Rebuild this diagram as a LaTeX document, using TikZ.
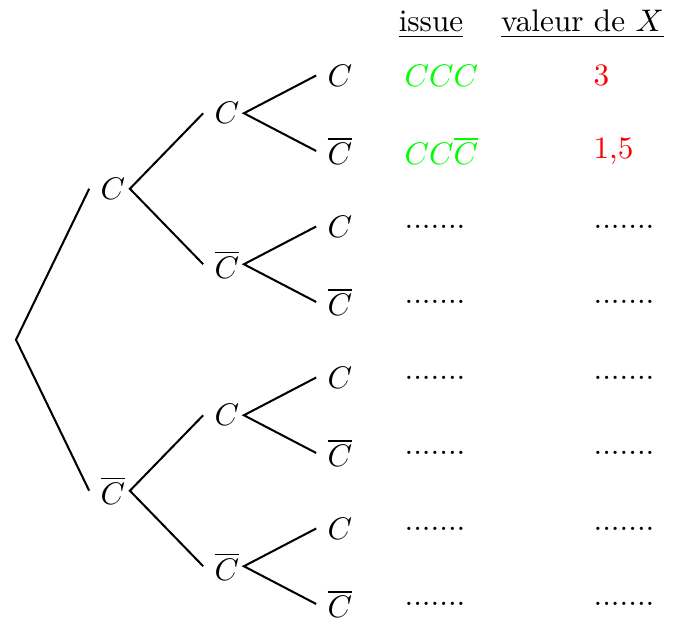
\documentclass[tikz,border=0pt]{standalone}
\usepackage{tikz}
\begin{document}
\begin{tikzpicture}[x=0.3205pt,y=-0.3205pt,
  tn/.style={inner sep=0pt},
  col/.style={inner sep=0pt,anchor=west},
  head/.style={inner sep=0pt,anchor=base},
  edge/.style={line width=0.65pt},
  iss/.style={text=green},
  val/.style={text=red}]
\useasboundingbox (0,0) rectangle (679,621);
% root
\coordinate (r) at (16,339.75);
% level 1
\node[tn] (a) at (113,188.75) {$C$};
\node[tn] (b) at (113,490.75) {$\overline{C}$};
% level 2
\node[tn] (aa) at (227,113.25) {$C$};
\node[tn] (ab) at (227,264.25) {$\overline{C}$};
\node[tn] (ba) at (227,415.25) {$C$};
\node[tn] (bb) at (227,566.25) {$\overline{C}$};
% level 3
\node[tn] (aaa) at (340,75.5) {$C$};
\node[tn] (aab) at (340,151) {$\overline{C}$};
\node[tn] (aba) at (340,226.5) {$C$};
\node[tn] (abb) at (340,302) {$\overline{C}$};
\node[tn] (baa) at (340,377.5) {$C$};
\node[tn] (bab) at (340,453) {$\overline{C}$};
\node[tn] (bba) at (340,528.5) {$C$};
\node[tn] (bbb) at (340,604) {$\overline{C}$};
% edges
\draw[edge] ([xshift=-3.5pt]a.west) -- (r) -- ([xshift=-3.5pt]b.west);
\draw[edge] ([xshift=-3.5pt]aa.west) -- ([xshift=1.28pt]a.east) -- ([xshift=-3.5pt]ab.west);
\draw[edge] ([xshift=-3.5pt]ba.west) -- ([xshift=1.28pt]b.east) -- ([xshift=-3.5pt]bb.west);
\draw[edge] ([xshift=-3.5pt]aaa.west) -- ([xshift=1.28pt]aa.east) -- ([xshift=-3.5pt]aab.west);
\draw[edge] ([xshift=-3.5pt]aba.west) -- ([xshift=1.28pt]ab.east) -- ([xshift=-3.5pt]abb.west);
\draw[edge] ([xshift=-3.5pt]baa.west) -- ([xshift=1.28pt]ba.east) -- ([xshift=-3.5pt]bab.west);
\draw[edge] ([xshift=-3.5pt]bba.west) -- ([xshift=1.28pt]bb.east) -- ([xshift=-3.5pt]bbb.west);
% headers
\node[head] (h1) at (431,32) {\underline{issue}};
\node[head] (h2) at (582.5,32) {\underline{valeur de $X$}};
% issue column
\node[col,iss] (i1) at (404,75.5) {$CCC$};
\node[col,iss] (i2) at (404,151) {$CC\overline{C}$};
\node[col] (i3) at (404,226.5) {.......};
\node[col] (i4) at (404,302) {.......};
\node[col] (i5) at (404,377.5) {.......};
\node[col] (i6) at (404,453) {.......};
\node[col] (i7) at (404,528.5) {.......};
\node[col] (i8) at (404,604) {.......};
% value column
\node[col,val] (v1) at (593,75.5) {3};
\node[col,val] (v2) at (593,151) {1,5};
\node[col] (v3) at (593,226.5) {.......};
\node[col] (v4) at (593,302) {.......};
\node[col] (v5) at (593,377.5) {.......};
\node[col] (v6) at (593,453) {.......};
\node[col] (v7) at (593,528.5) {.......};
\node[col] (v8) at (593,604) {.......};
\end{tikzpicture}
\end{document}
